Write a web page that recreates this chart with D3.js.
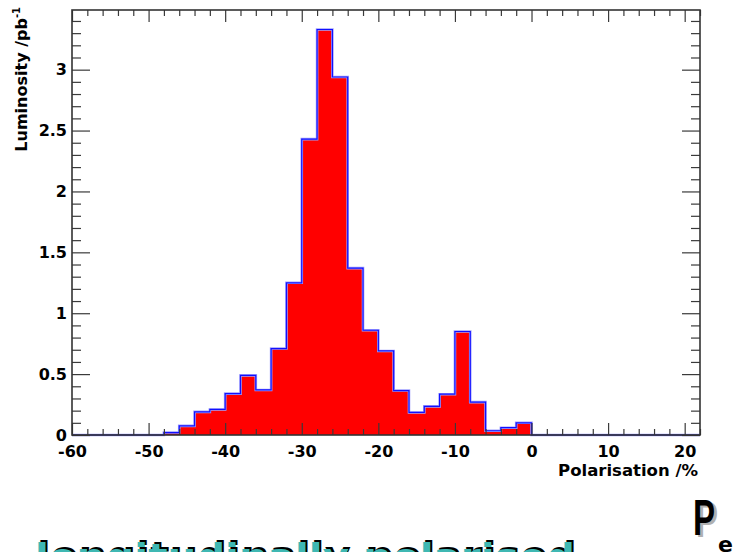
<!DOCTYPE html>
<html>
<head>
<meta charset="utf-8">
<script src="https://cdn.jsdelivr.net/npm/d3@7"></script>
<style>
  html, body { margin: 0; padding: 0; background: #fff; }
  svg { display: block; }
  .lbl { font-family: "DejaVu Sans", sans-serif; font-weight: bold; fill: #000; }
</style>
</head>
<body>
<svg id="chart" width="736" height="552"></svg>
<script>
// Lower edges of the 2% polarisation bins (%)
const binLowEdges = [-48, -46, -44, -42, -40, -38, -36, -34, -32, -30, -28, -26,
                     -24, -22, -20, -18, -16, -14, -12, -10, -8, -6, -4, -2];
const binWidth = 2;
// Integrated luminosity per bin (pb^-1)
const luminosity = [0.02, 0.075, 0.19, 0.21, 0.34, 0.49, 0.37, 0.71, 1.25, 2.43, 3.33, 2.94,
                    1.37, 0.86, 0.69, 0.365, 0.185, 0.235, 0.335, 0.85, 0.27, 0.035, 0.06, 0.10];

// Axis ticks and labels
const xMajorTicks = [-60, -50, -40, -30, -20, -10, 0, 10, 20];
const xTickLabels = ["-60", "-50", "-40", "-30", "-20", "-10", "0", "10", "20"];
const xMinorTicks = [-58, -56, -54, -52, -48, -46, -44, -42, -38, -36, -34, -32,
                     -28, -26, -24, -22, -18, -16, -14, -12, -8, -6, -4, -2,
                     2, 4, 6, 8, 12, 14, 16, 18, 22];
const yMajorTicks = [0, 0.5, 1, 1.5, 2, 2.5, 3];
const yTickLabels = ["0", "0.5", "1", "1.5", "2", "2.5", "3"];
const yMinorTicks = [0.1, 0.2, 0.3, 0.4, 0.6, 0.7, 0.8, 0.9, 1.1, 1.2, 1.3, 1.4,
                     1.6, 1.7, 1.8, 1.9, 2.1, 2.2, 2.3, 2.4, 2.6, 2.7, 2.8, 2.9,
                     3.1, 3.2, 3.3, 3.4];

const svg = d3.select("#chart");
const frame = { left: 72, right: 700, top: 10, bottom: 435 };

const x = d3.scaleLinear().domain([-60, 22]).range([frame.left, frame.right]);
const y = d3.scaleLinear().domain([0, 3.49]).range([frame.bottom, frame.top]);

const bins = binLowEdges.map((lo, i) => ({ lo, hi: lo + binWidth, v: luminosity[i] }));

// Histogram steps: corner points of every bin
const stepPts = [];
bins.forEach(d => { stepPts.push([d.lo, d.v]); stepPts.push([d.hi, d.v]); });

// Filled histogram as one area so neighbouring bins join without seams
svg.append("path")
  .attr("d", d3.area().x(p => x(p[0])).y0(y(0)).y1(p => y(p[1]))(stepPts))
  .attr("fill", "#ff0000");

// Step outline, continued along zero over the empty range
const outlinePts = [[x.domain()[0], 0], [bins[0].lo, 0], ...stepPts,
                    [bins[bins.length - 1].hi, 0], [x.domain()[1], 0]];
const stepLine = d3.line().x(p => x(p[0])).y(p => y(p[1]));
svg.append("path")
  .attr("d", stepLine(outlinePts))
  .attr("fill", "none")
  .attr("stroke", "#a0a0ff")
  .attr("stroke-width", 2.6);
svg.append("path")
  .attr("d", stepLine(outlinePts))
  .attr("fill", "none")
  .attr("stroke", "#1010ff")
  .attr("stroke-width", 1.2);

// Ticks on all four sides, pointing inward
const tickColor = "#3a3a3a";
function styleAxis(g) {
  g.select(".domain").remove();
  g.selectAll(".tick line").attr("stroke", tickColor).attr("stroke-width", 1.2);
}
function styleLabels(g) {
  g.selectAll("text").attr("class", "lbl").attr("font-size", 16)
   .attr("font-family", null).attr("fill", "#000");
}

// bottom
svg.append("g").attr("transform", `translate(0,${frame.bottom})`)
  .call(d3.axisBottom(x).tickValues(xMajorTicks).tickSize(-12)
        .tickFormat((d, i) => xTickLabels[i]).tickPadding(11))
  .call(styleAxis).call(styleLabels);
svg.append("g").attr("transform", `translate(0,${frame.bottom})`)
  .call(d3.axisBottom(x).tickValues(xMinorTicks).tickSize(-6).tickFormat(""))
  .call(styleAxis);
// top
svg.append("g").attr("transform", `translate(0,${frame.top})`)
  .call(d3.axisTop(x).tickValues(xMajorTicks).tickSize(-12).tickFormat(""))
  .call(styleAxis);
svg.append("g").attr("transform", `translate(0,${frame.top})`)
  .call(d3.axisTop(x).tickValues(xMinorTicks).tickSize(-6).tickFormat(""))
  .call(styleAxis);
// left
svg.append("g").attr("transform", `translate(${frame.left},0)`)
  .call(d3.axisLeft(y).tickValues(yMajorTicks).tickSize(-18)
        .tickFormat((d, i) => yTickLabels[i]).tickPadding(5))
  .call(styleAxis).call(styleLabels);
svg.append("g").attr("transform", `translate(${frame.left},0)`)
  .call(d3.axisLeft(y).tickValues(yMinorTicks).tickSize(-9).tickFormat(""))
  .call(styleAxis);
// right
svg.append("g").attr("transform", `translate(${frame.right},0)`)
  .call(d3.axisRight(y).tickValues(yMajorTicks).tickSize(-18).tickFormat(""))
  .call(styleAxis);
svg.append("g").attr("transform", `translate(${frame.right},0)`)
  .call(d3.axisRight(y).tickValues(yMinorTicks).tickSize(-9).tickFormat(""))
  .call(styleAxis);

// Frame
svg.append("rect")
  .attr("x", frame.left).attr("y", frame.top)
  .attr("width", frame.right - frame.left).attr("height", frame.bottom - frame.top)
  .attr("fill", "none").attr("stroke", "#333").attr("stroke-width", 1.6);

// Axis titles
svg.append("text").attr("class", "lbl")
  .attr("x", 698).attr("y", 476)
  .attr("text-anchor", "end").attr("font-size", 16.5)
  .text("Polarisation /%");

const yTitle = svg.append("text").attr("class", "lbl")
  .attr("transform", "translate(27,7) rotate(-90)")
  .attr("text-anchor", "end").attr("font-size", 16);
yTitle.append("tspan").text("Luminosity /pb");
yTitle.append("tspan").attr("font-size", 10).attr("dy", -7).text("-1");

// Caption below the plot (only its upper part fits on the page)
const caption = "longitudinally polarised";
svg.append("text")
  .attr("x", 37).attr("y", 567)
  .attr("font-family", "DejaVu Sans, sans-serif").attr("font-weight", "bold")
  .attr("font-size", 36).attr("textLength", 540).attr("lengthAdjust", "spacingAndGlyphs")
  .attr("fill", "#000").text(caption);
svg.append("text")
  .attr("x", 35).attr("y", 569)
  .attr("font-family", "DejaVu Sans, sans-serif").attr("font-weight", "bold")
  .attr("font-size", 36).attr("textLength", 540).attr("lengthAdjust", "spacingAndGlyphs")
  .attr("fill", "#3fb8b3").text(caption);

// P_e symbol
svg.append("text")
  .attr("transform", "translate(696,537) scale(0.66,1)")
  .attr("font-family", "Liberation Sans, Arial, sans-serif").attr("font-weight", "bold")
  .attr("font-size", 50).attr("fill", "#b0b0b0").text("P");
svg.append("text")
  .attr("transform", "translate(693,535) scale(0.66,1)")
  .attr("font-family", "Liberation Sans, Arial, sans-serif").attr("font-weight", "bold")
  .attr("font-size", 50).attr("fill", "#000").text("P");
svg.append("text")
  .attr("x", 718).attr("y", 552)
  .attr("font-family", "DejaVu Sans, sans-serif").attr("font-weight", "bold")
  .attr("font-size", 22).attr("fill", "#000").text("e");
</script>
</body>
</html>
